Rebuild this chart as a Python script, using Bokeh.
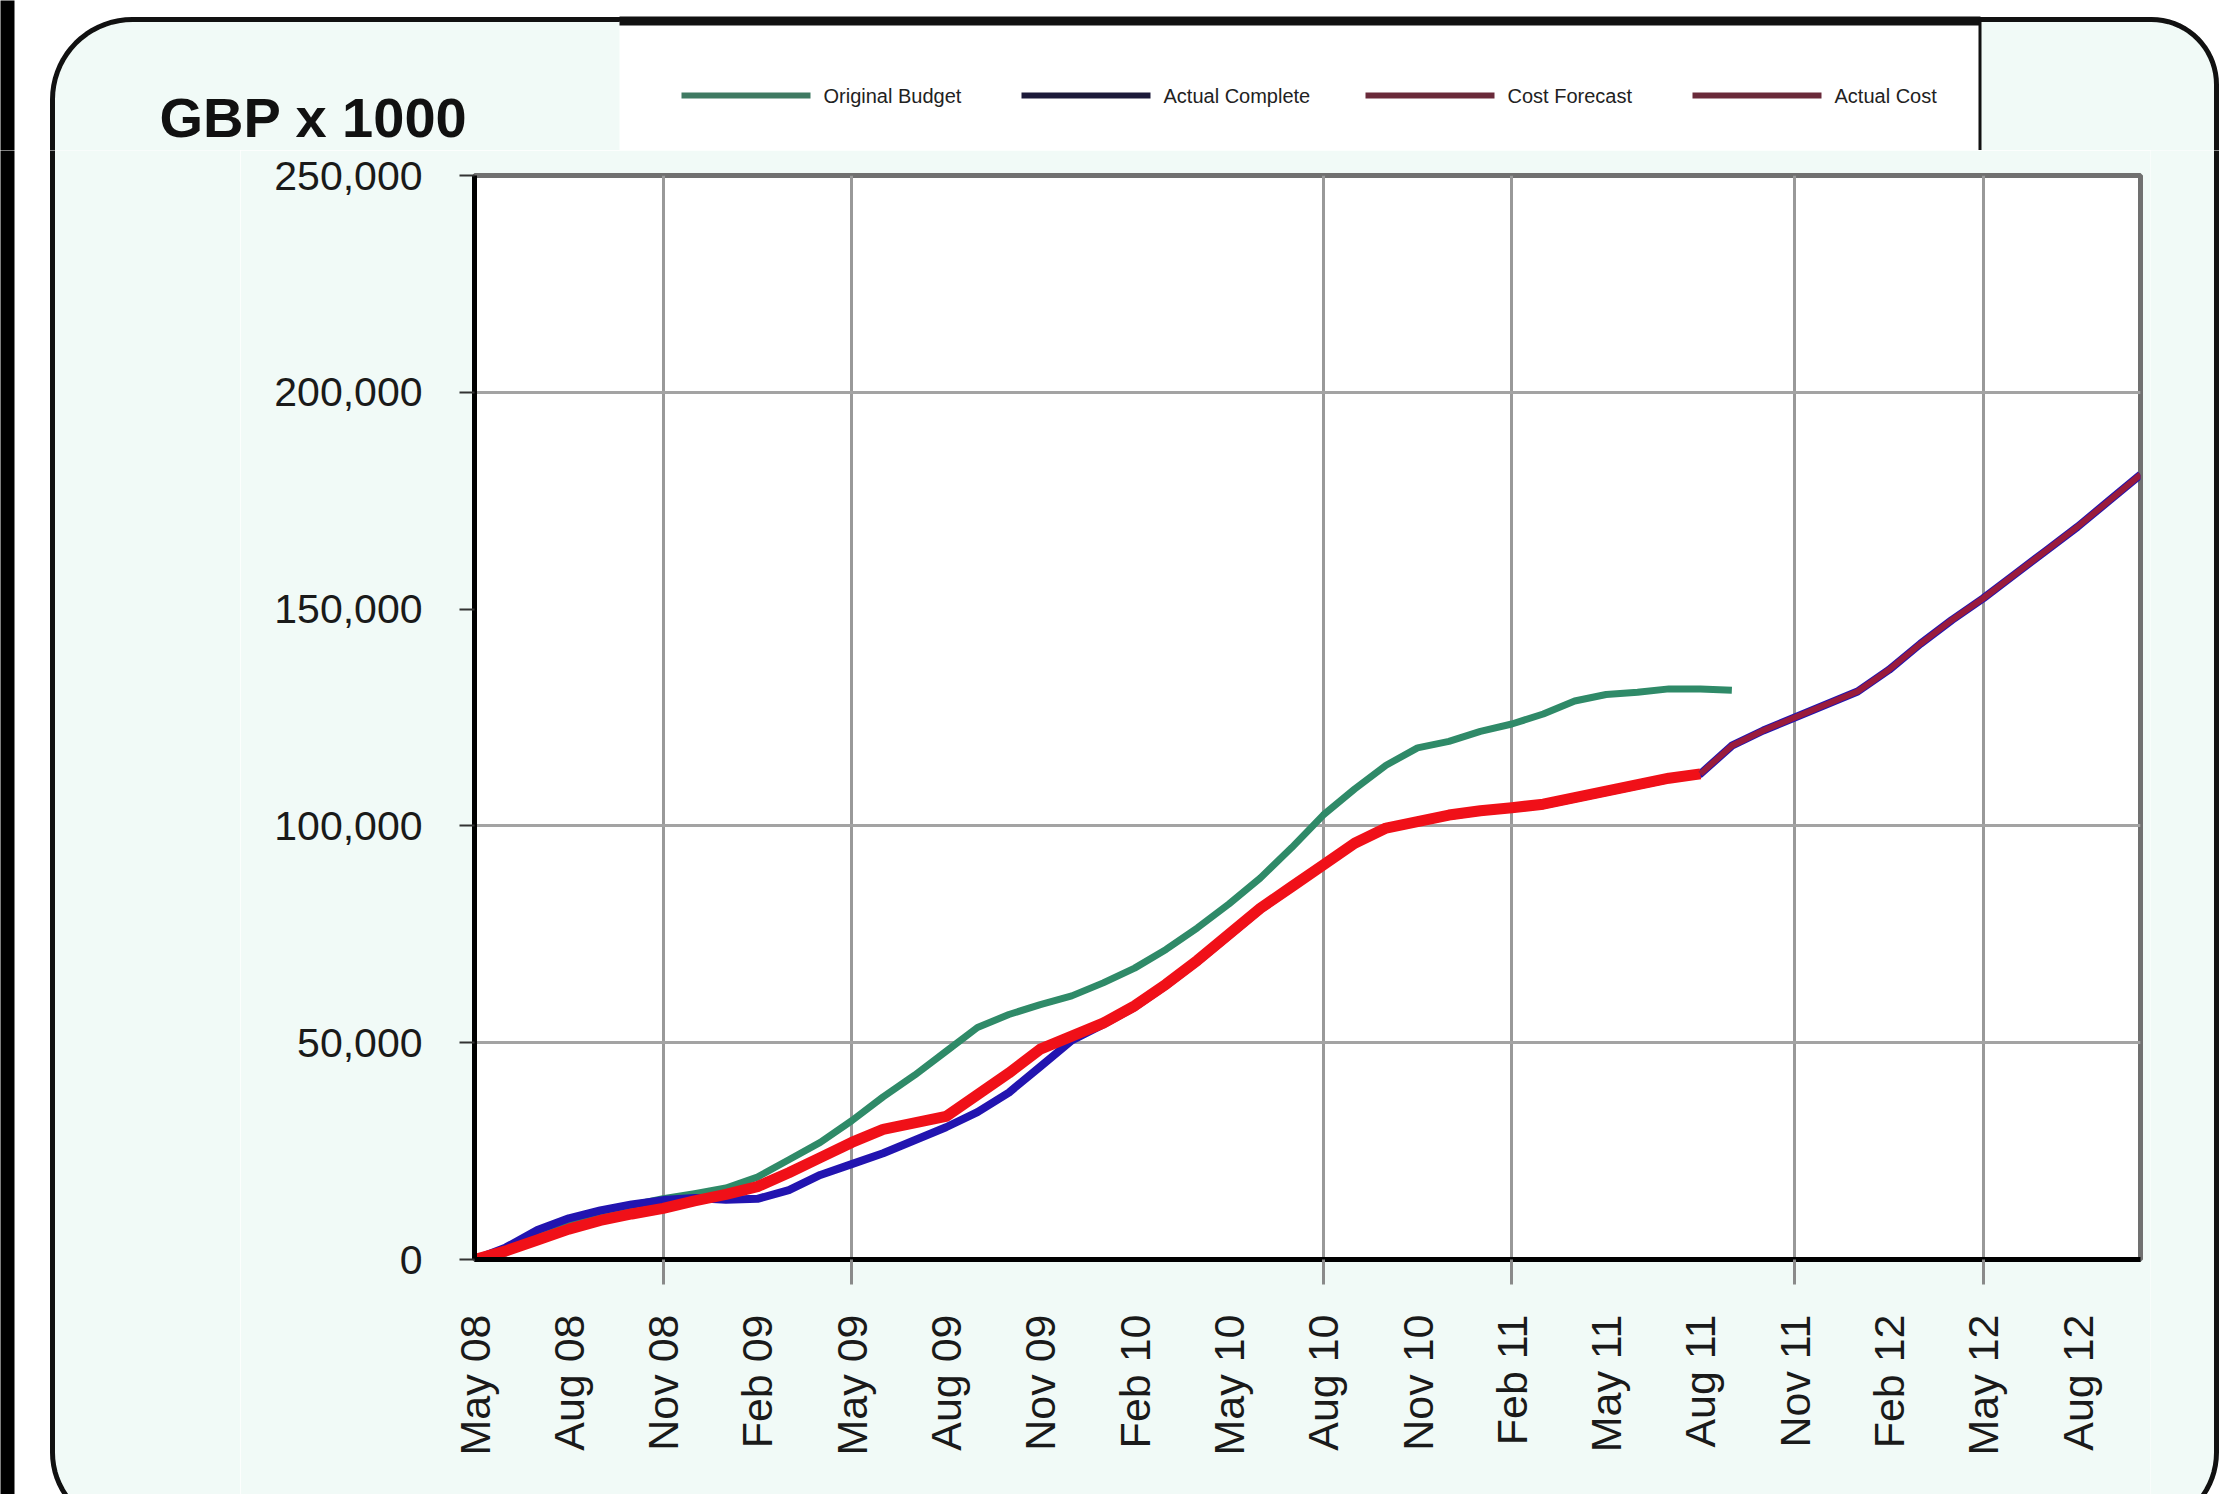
import math
import numpy as np
from bokeh.plotting import figure
from bokeh.layouts import column, row
from bokeh.models import Range1d, FixedTicker, NumeralTickFormatter, ColumnDataSource
from bokeh.core.properties import value
from bokeh.embed import file_html
from bokeh.resources import INLINE

# ---------------- data ----------------
months = ["May 08", "Jun 08", "Jul 08", "Aug 08", "Sep 08", "Oct 08", "Nov 08", "Dec 08",
          "Jan 09", "Feb 09", "Mar 09", "Apr 09", "May 09", "Jun 09", "Jul 09", "Aug 09",
          "Sep 09", "Oct 09", "Nov 09", "Dec 09", "Jan 10", "Feb 10", "Mar 10", "Apr 10",
          "May 10", "Jun 10", "Jul 10", "Aug 10", "Sep 10", "Oct 10", "Nov 10", "Dec 10",
          "Jan 11", "Feb 11", "Mar 11", "Apr 11", "May 11", "Jun 11", "Jul 11", "Aug 11",
          "Sep 11", "Oct 11", "Nov 11", "Dec 11", "Jan 12", "Feb 12", "Mar 12", "Apr 12",
          "May 12", "Jun 12", "Jul 12", "Aug 12", "Sep 12", "Oct 12"]

original_budget = [0, 1500, 5500, 8500, 10500, 12500, 14000, 15200, 16500, 19000,
                   23000, 27000, 32000, 37500, 42500, 48000, 53500, 56500, 58800, 60800,
                   63800, 67200, 71500, 76500, 82000, 88000, 95000, 102500, 108500, 114000,
                   118000, 119500, 121800, 123500, 125800, 128800, 130300, 130800, 131600, 131600,
                   131300] + [None] * 13

actual_completion = [0, 2800, 6800, 9500, 11300, 12700, 13700, 14200, 13800, 14000,
                     16000, 19500, 22000, 24500, 27500, 30500, 34000, 38500, 44500, 50500,
                     54200, 58200, 63200, 68700, 74700, 80700, 85800, 90800, 95800, 99300,
                     100800, 102300, 103300, 104000, 104800, 106300, 107800, 109300, 110800, 112000,
                     118500, 122000, 125000, 128000, 131000, 136000, 142000, 147500, 152500, 158000,
                     163500, 169000, 175000, 181000]

actual_cost = [0, 2000, 4500, 7000, 9000, 10500, 11800, 13500, 15000, 16800,
               20000, 23500, 27000, 30000, 31500, 33000, 38000, 43000, 48500, 51500,
               54500, 58500, 63500, 69000, 75000, 81000, 86000, 91000, 96000, 99500,
               101000, 102500, 103500, 104200, 105000, 106500, 108000, 109500, 111000, 112000] + [None] * 14

cost_forecast = [None] * 39 + [112000, 118500, 122000, 125000, 128000, 131000, 136000, 142000,
                               147500, 152500, 158000, 163500, 169000, 175000, 181000]

chart_title = "GBP x 1000"
series_names = ["Original Budget", "Actual Complete", "Cost Forecast", "Actual Cost"]
label_ticks = list(range(0, 52, 3))
y_ticks = [0, 50000, 100000, 150000, 200000, 250000]
x_grid_months = ["Nov 08", "May 09", "Aug 10", "Feb 11", "Nov 11", "May 12"]
y_grid_values = [50000, 100000, 200000]

idx = list(range(len(months)))
src = ColumnDataSource(dict(
    x=idx,
    budget=np.array(original_budget, dtype=float),
    completion=np.array(actual_completion, dtype=float),
    cost=np.array(actual_cost, dtype=float),
    forecast=np.array(cost_forecast, dtype=float),
))

# ---------------- page geometry (px) ----------------
W, H = 2219, 1494
TOP_H = 150            # height of the title / legend strip
L_W = 240              # left decoration strip
R_X = 2150             # right decoration strip starts here
FRAME_TOP, FRAME_BOTTOM, FRAME_LEFT, FRAME_RIGHT = 175, 1259, 474, 2140
MINT = "#f1faf7"
FONT = "Liberation Sans"


def no_align(f):
    try:
        f.frame_align = False
    except Exception:
        pass
    return f


# ---------------- main chart ----------------
MW, MH = R_X - L_W, H - TOP_H
p = figure(width=MW, height=MH, output_backend="svg", toolbar_location=None,
           title_location=None,
           x_range=Range1d(0, len(months) - 1), y_range=Range1d(0, 250000),
           min_border_left=FRAME_LEFT - L_W, min_border_right=R_X - FRAME_RIGHT,
           min_border_top=FRAME_TOP - TOP_H, min_border_bottom=H - FRAME_BOTTOM)
no_align(p)
p.border_fill_color = MINT
p.background_fill_color = "white"
p.outline_line_color = "#707070"
p.outline_line_width = 5

grid_x = [months.index(m) for m in x_grid_months]

p.xaxis.ticker = FixedTicker(ticks=label_ticks, minor_ticks=grid_x)
p.xaxis.major_label_overrides = {i: months[i] for i in label_ticks}
p.xaxis.major_label_orientation = math.pi / 2
p.xaxis.major_label_text_font = FONT
p.xaxis.major_label_text_font_size = "43px"
p.xaxis.major_label_text_color = "#1a1a1a"
p.xaxis.major_label_standoff = 30
p.xaxis.major_tick_out = 0
p.xaxis.major_tick_in = 0
p.xaxis.major_tick_line_color = None
p.xaxis.minor_tick_out = 25
p.xaxis.minor_tick_in = 0
p.xaxis.minor_tick_line_color = "#8a8a8a"
p.xaxis.minor_tick_line_width = 3
p.xaxis.axis_line_color = "black"
p.xaxis.axis_line_width = 5

p.yaxis.ticker = FixedTicker(ticks=y_ticks)
p.yaxis.formatter = NumeralTickFormatter(format="0,0")
p.yaxis.major_label_text_font = FONT
p.yaxis.major_label_text_font_size = "41px"
p.yaxis.major_label_text_color = "#1a1a1a"
p.yaxis.major_tick_out = 15
p.yaxis.major_tick_in = 0
p.yaxis.major_tick_line_color = "#333333"
p.yaxis.major_tick_line_width = 2
p.yaxis.major_label_standoff = 37
p.yaxis.minor_tick_line_color = None
p.yaxis.axis_line_color = "black"
p.yaxis.axis_line_width = 5

p.xgrid.ticker = FixedTicker(ticks=grid_x)
p.ygrid.ticker = FixedTicker(ticks=y_grid_values)
p.xgrid.grid_line_color = "#999999"
p.ygrid.grid_line_color = "#a3a3a3"
p.xgrid.grid_line_width = 3
p.ygrid.grid_line_width = 3

p.line("x", "budget", source=src, line_color="#2f8a68", line_width=7, line_join="round")
p.line("x", "completion", source=src, line_color="#2214b0", line_width=8, line_join="round")
p.line("x", "cost", source=src, line_color="#f01018", line_width=11, line_join="round")
p.line("x", "forecast", source=src, line_color="#9a1b3c", line_width=6, line_join="round")


# ---------------- decoration tiles (page frame, title, legend) ----------------
def arc(cx, cy, r, a0, a1, n=18):
    return [(cx + r * math.cos(a0 + (a1 - a0) * k / n),
             cy + r * math.sin(a0 + (a1 - a0) * k / n)) for k in range(n + 1)]


CL, CT, CR, CB = 52, 19, 2216, 1527
r_tl, r_tr, r_br, r_bl = 80, 65, 75, 75
outline = (arc(CL + r_tl, CT + r_tl, r_tl, math.pi, 1.5 * math.pi)
           + arc(CR - r_tr, CT + r_tr, r_tr, 1.5 * math.pi, 2 * math.pi)
           + arc(CR - r_br, CB - r_br, r_br, 0, 0.5 * math.pi)
           + arc(CL + r_bl, CB - r_bl, r_bl, 0.5 * math.pi, math.pi))
cont_x = [q[0] for q in outline]
cont_y = [q[1] for q in outline]


def tile(x0, x1, y0, y1):
    f = figure(width=x1 - x0, height=y1 - y0, output_backend="svg", toolbar_location=None,
               title_location=None, x_range=Range1d(x0, x1), y_range=Range1d(y1, y0),
               x_axis_location=None, y_axis_location=None, min_border=0)
    no_align(f)
    f.outline_line_color = None
    f.background_fill_color = "white"
    f.border_fill_color = "white"
    f.grid.visible = False
    f.patch(cont_x, cont_y, fill_color=MINT, line_color="#111111", line_width=5)
    f.quad(left=[-2], right=[14], top=[-10], bottom=[H + 10], fill_color="black", line_color=None)
    return f


top = tile(0, W, 0, TOP_H)
left = tile(0, L_W, TOP_H, H)
right = tile(R_X, W, TOP_H, H)

# legend box with its top and right edges
top.quad(left=[619], right=[1980], top=[21], bottom=[TOP_H + 2], fill_color="white", line_color=None)
top.quad(left=[619], right=[1980], top=[16], bottom=[25], fill_color="#111111", line_color=None)
top.quad(left=[1978], right=[1981], top=[19], bottom=[TOP_H + 2], fill_color="#111111", line_color=None)

legend_colors = ["#3f7a62", "#1c1a3a", "#6a2a3a", "#6a2a3a"]
legend_x = [681, 1021, 1365, 1692]
top.quad(left=legend_x, right=[x + 129 for x in legend_x], top=[92] * 4, bottom=[98] * 4,
         fill_color=legend_colors, line_color=None)
top.text(x=[x + 142 for x in legend_x], y=[95] * 4, text=series_names,
         text_font=value(FONT), text_font_size=value("20px"), text_color="#222222",
         text_baseline="middle", text_align="left")
top.text(x=[159], y=[117], text=[chart_title], text_font=value(FONT),
         text_font_size=value("56px"), text_font_style="bold", text_color="#111111",
         text_baseline="alphabetic", text_align="left")

layout = column(top, row(column(left, spacing=0), p, column(right, spacing=0), spacing=0),
                spacing=0)

open("out.html", "w").write(file_html(layout, INLINE))
